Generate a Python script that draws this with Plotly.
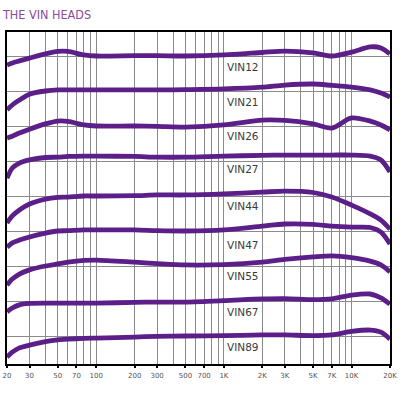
import math
import plotly.graph_objects as go

# Frequencies (Hz) shared by all curves
freqs = [20, 22, 25, 30, 40, 50, 60, 80, 100, 200, 300, 500, 1000, 2000, 3000,
         5000, 7000, 10000, 14000, 17000, 20000]

# Response levels (dB, stacked offsets)
vin12 = [85.4, 86.0, 86.6, 87.4, 88.6, 89.3, 89.3, 88.3, 88.0, 88.1, 88.1, 88.0, 88.3,
         89.0, 89.4, 88.9, 88.0, 89.1, 90.6, 90.3, 88.6]
vin21 = [72.6, 74.0, 75.4, 77.1, 78.0, 78.3, 78.3, 78.3, 78.3, 78.3, 78.3, 78.4, 78.6,
         79.1, 79.7, 80.0, 79.6, 79.1, 78.3, 77.4, 76.3]
vin26 = [64.6, 65.1, 66.0, 67.1, 68.6, 69.4, 69.3, 68.3, 68.0, 68.0, 67.9, 67.7, 68.3,
         69.7, 69.6, 68.6, 67.4, 70.3, 69.4, 68.3, 66.9]
vin27 = [53.1, 56.0, 57.4, 58.3, 59.0, 59.1, 59.3, 59.4, 59.4, 59.3, 59.1, 59.1, 59.4,
         59.6, 59.7, 59.7, 59.7, 59.7, 59.4, 58.3, 54.9]
vin44 = [40.3, 42.3, 44.0, 45.7, 47.1, 47.6, 47.7, 48.0, 48.0, 48.1, 48.3, 48.3, 48.6,
         49.1, 49.4, 49.0, 47.7, 45.4, 42.9, 41.1, 38.5]
vin47 = [33.4, 34.6, 35.4, 36.3, 37.4, 38.0, 38.1, 38.3, 38.3, 38.3, 38.1, 38.0, 38.3,
         39.4, 40.0, 39.9, 39.4, 39.1, 39.0, 37.7, 34.3]
vin55 = [22.6, 24.3, 25.7, 26.9, 28.0, 28.6, 29.1, 29.6, 29.7, 29.1, 28.7, 28.3, 28.4,
         29.1, 29.9, 30.6, 30.9, 30.4, 29.4, 28.3, 26.3]
vin67 = [14.9, 16.0, 16.9, 17.3, 17.4, 17.4, 17.4, 17.4, 17.4, 17.6, 17.7, 17.7, 18.1,
         18.6, 18.7, 18.4, 18.6, 19.7, 20.0, 18.9, 17.1]
vin89 = [2.0, 3.4, 4.6, 5.4, 6.4, 6.9, 7.1, 7.3, 7.4, 7.7, 7.9, 8.0, 8.1,
         8.3, 8.3, 8.1, 8.3, 9.3, 9.7, 9.1, 7.1]

series_names = ["VIN12", "VIN21", "VIN26", "VIN27", "VIN44", "VIN47", "VIN55", "VIN67", "VIN89"]
series_values = [vin12, vin21, vin26, vin27, vin44, vin47, vin55, vin67, vin89]
label_levels = [84.9, 74.9, 65.1, 55.7, 45.1, 34.0, 25.1, 14.9, 4.9]
label_freq = 1420

tick_vals = [20, 30, 50, 70, 100, 200, 300, 500, 700, 1000, 2000, 3000, 5000, 7000, 10000, 20000]
tick_text = ["20", "30", "50", "70", "100", "200", "300", "500", "700", "1K", "2K", "3K",
             "5K", "7K", "10K", "20K"]
minor_vals = [40, 60, 80, 90, 400, 600, 800, 900, 4000, 6000, 8000, 9000]

line_color = "#5c1f8a"
grid_color = "#8a8a8a"

fig = go.Figure()
for name, vals in zip(series_names, series_values):
    fig.add_trace(go.Scatter(
        x=freqs, y=vals, mode="lines", name=name,
        line=dict(color=line_color, width=4.8, shape="spline", smoothing=0.8),
        hoverinfo="skip", showlegend=False,
    ))

for name, lvl in zip(series_names, label_levels):
    fig.add_annotation(x=math.log10(label_freq), y=lvl, xref="x", yref="y", text=name,
                       showarrow=False, xanchor="center", yanchor="middle",
                       font=dict(family="DejaVu Sans", size=10.5, color="#3a3a3a"))

fig.add_annotation(x=0, y=1, xref="paper", yref="paper", text="THE VIN HEADS",
                   showarrow=False, xanchor="left", yanchor="bottom", yshift=8, xshift=-7,
                   font=dict(family="DejaVu Sans Condensed, Liberation Sans Narrow, sans-serif",
                             size=12.5, color="#8a4b9b"))

fig.update_xaxes(
    type="log", range=[math.log10(19.99), math.log10(20010)],
    tickmode="array", tickvals=tick_vals, ticktext=tick_text,
    tickfont=dict(family="DejaVu Sans", size=7, color="#555555"),
    ticks="outside", ticklen=2, tickwidth=2, tickcolor="black",
    showgrid=True, gridcolor=grid_color, gridwidth=1,
    minor=dict(tickmode="array", tickvals=minor_vals, showgrid=True,
               gridcolor=grid_color, gridwidth=1, ticks=""),
    showline=True, linecolor="black", linewidth=2, mirror=True,
    zeroline=False, ticklabelstandoff=2, ticklabeloverflow="allow",
)
fig.update_yaxes(
    range=[0, 94.857], tick0=8, dtick=10, showticklabels=False,
    showgrid=True, gridcolor=grid_color, gridwidth=1,
    showline=True, linecolor="black", linewidth=2, mirror=True,
    zeroline=False, ticks="",
)
fig.update_layout(
    width=400, height=400,
    margin=dict(l=3, r=4, t=32, b=36),
    plot_bgcolor="white", paper_bgcolor="white",
)
fig.write_html("out.html")
